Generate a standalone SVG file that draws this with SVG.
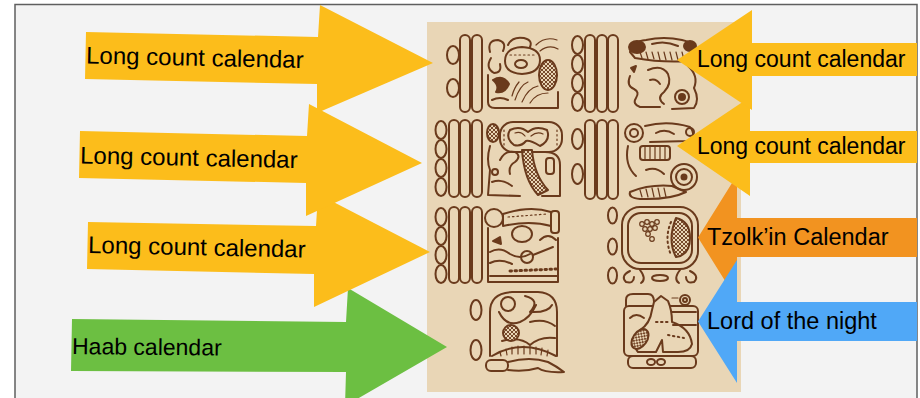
<svg xmlns="http://www.w3.org/2000/svg" width="920" height="398" viewBox="0 0 920 398">
<defs>
<style>
.gl{fill:none;stroke:#6a3a1c;stroke-width:2;stroke-linecap:round;stroke-linejoin:round}
.fb{fill:#6a3a1c}
.th{stroke-width:1.2}
.lbl{font-family:"Liberation Sans",Arial,sans-serif;fill:#000}
.yel{fill:#fcbd1b}
</style>
<pattern id="hatch" width="4" height="4" patternUnits="userSpaceOnUse"><rect width="4" height="4" fill="#e9d6b6"/><path d="M0 0 L4 4 M4 0 L0 4" stroke="#6a3a1c" stroke-width="0.9"/></pattern>
<rect id="bar" width="10" height="77" rx="5"/>
<rect id="barL" width="10" height="79" rx="5"/>
<rect id="barS" width="10" height="76" rx="5"/>
</defs>
<rect width="920" height="398" fill="#ffffff"/>
<rect x="15" y="4.5" width="902" height="400" fill="#f3f3f3" stroke="#5f5f5f" stroke-width="1.5"/>

<g id="glyph-panel">
<rect x="427" y="22" width="314" height="370" fill="#e9d6b6"/>
<g class="gl">
<!-- row 1 numerals -->
<g id="num-a1"><use href="#bar" x="460" y="35"/><use href="#bar" x="472" y="35"/><ellipse cx="453" cy="55" rx="6" ry="9"/><ellipse cx="453" cy="88" rx="6" ry="9"/></g>
<g id="num-c1"><use href="#bar" x="585" y="35"/><use href="#bar" x="597" y="35"/><use href="#bar" x="608" y="35"/><ellipse cx="577.5" cy="45" rx="5.5" ry="9"/><ellipse cx="577.5" cy="64" rx="5.5" ry="9"/><ellipse cx="577.5" cy="83" rx="5.5" ry="9"/><ellipse cx="577.5" cy="102" rx="5.5" ry="9"/></g>
<!-- row 2 numerals -->
<g id="num-a2"><use href="#bar" x="449" y="120"/><use href="#bar" x="460" y="120"/><use href="#bar" x="472" y="120"/><ellipse cx="441" cy="130" rx="5.5" ry="9"/><ellipse cx="441" cy="149" rx="5.5" ry="9"/><ellipse cx="441" cy="168" rx="5.5" ry="9"/><ellipse cx="441" cy="187" rx="5.5" ry="9"/></g>
<g id="num-c2"><use href="#barL" x="585" y="120"/><use href="#barL" x="597" y="120"/><use href="#barL" x="608" y="120"/><ellipse cx="577.5" cy="139" rx="5.5" ry="10"/><ellipse cx="577.5" cy="174" rx="5.5" ry="10"/></g>
<!-- row 3 numerals -->
<g id="num-a3"><use href="#barS" x="449" y="207"/><use href="#barS" x="460" y="207"/><use href="#barS" x="472" y="207"/><ellipse cx="441" cy="217" rx="5.5" ry="9"/><ellipse cx="441" cy="236" rx="5.5" ry="9"/><ellipse cx="441" cy="255" rx="5.5" ry="9"/><ellipse cx="441" cy="274" rx="5.5" ry="9"/></g>
<g id="num-c3"><ellipse cx="612.5" cy="215.5" rx="4.5" ry="8"/><ellipse cx="612.5" cy="246.5" rx="4.5" ry="8"/><ellipse cx="612.5" cy="275.5" rx="4.5" ry="8"/></g>
<!-- row 4 numeral -->
<g id="num-a4"><ellipse cx="476" cy="310" rx="5.5" ry="10"/><ellipse cx="476" cy="350" rx="5.5" ry="10"/></g>

<!-- glyph B1 -->
<g id="glyph-b1">
<path d="M490 52 Q487 40 498 40 Q507 42 503 51"/>
<path d="M508 45 Q512 36 524 38 Q533 40 530 47"/>
<path d="M536 45 Q545 36 557 40 M540 51 Q549 44 558 49" class="th"/>
<path d="M505 61 Q505 48 522 47 Q540 48 540 60 Q540 73 522 74 Q505 73 505 61 Z"/>
<path d="M510 55 L534 55" stroke-dasharray="1.5 3" class="th"/>
<ellipse cx="521" cy="64" rx="6" ry="4"/>
<path d="M491 58 Q485 68 494 73 Q502 73 500 64"/>
<path class="fb" d="M493 80 Q503 74 509 84 Q505 94 496 92 Q500 86 493 80 Z"/>
<path d="M488 75 L488 102 Q488 108 495 108 L558 108 L558 92"/>
<ellipse cx="548" cy="75" rx="9" ry="15" fill="url(#hatch)"/>
<path d="M515 100 Q520 85 528 82 M522 102 Q528 88 538 86 M530 103 Q536 93 548 93 M512 96 Q514 88 519 82" class="th"/>
<path d="M492 100 Q500 96 508 100"/>
</g>

<!-- glyph D1 -->
<g id="glyph-d1">
<path d="M630 52 Q632 41 646 40 Q664 36 682 40 Q696 43 696 53 L690 61 Q662 63 635 58 Z"/>
<path d="M640 52 L642 58 M646 52 L648 59 M652 52 L654 59 M658 52 L660 60 M664 52 L666 60 M670 52 L672 60 M676 52 L678 60 M682 52 L684 60" class="th"/>
<ellipse cx="637" cy="47" rx="8" ry="6" class="fb"/>
<ellipse cx="690" cy="46" rx="6" ry="5" class="fb"/>
<path d="M652 44 Q665 40 678 46"/>
<path class="fb" d="M631 68 L636 66 L634 72 Z"/>
<path d="M630 76 Q626 86 634 89 Q640 92 636 98 Q632 104 640 107 L660 107"/>
<path d="M648 70 Q662 64 668 74 Q672 84 664 92 Q656 98 664 104"/>
<circle cx="682" cy="97" r="7"/><circle cx="682" cy="97" r="3" class="fb"/>
<path d="M688 66 Q699 76 694 88 Q700 100 694 108 L672 109"/>
<path d="M650 80 Q656 78 660 84"/>
</g>

<!-- glyph B2 -->
<g id="glyph-b2">
<rect x="500" y="122" width="62" height="30" rx="13"/>
<path d="M510 130 Q520 125 528 132 Q536 125 547 130 Q551 140 540 146 Q530 140 526 141 Q521 147 514 145 Q505 138 510 130 Z"/>
<path d="M515 133 Q521 131 525 136 M531 136 Q537 131 543 134" class="th"/>
<path d="M504 130 L504 145 M557 130 L557 145" stroke-dasharray="1.5 3" class="th"/>
<ellipse cx="493" cy="133" rx="6" ry="9" fill="url(#hatch)"/>
<path d="M490 146 Q486 160 490 170 L488 195 L520 196"/>
<circle cx="495" cy="172" r="3"/>
<path d="M500 160 Q505 150 515 152 Q522 156 515 162 Q508 166 510 174"/>
<path d="M522 150 L532 150 Q534 175 548 190 L538 195 Q524 180 522 150 Z" fill="url(#hatch)"/>
<rect x="546" y="158" width="8" height="16" rx="3"/>
<path d="M545 152 Q560 152 560 165 L560 196 L542 196"/>
<path d="M492 182 Q502 178 512 186"/>
</g>

<!-- glyph D2 -->
<g id="glyph-d2">
<circle cx="634" cy="133" r="9"/><circle cx="634" cy="133" r="4"/>
<path d="M645 126 Q668 120 690 127 Q697 136 688 141 L650 142"/>
<circle cx="690" cy="132" r="4"/>
<path d="M656 133 Q665 128 674 134"/>
<rect x="640" y="146" width="30" height="14" rx="3"/>
<path d="M645 146 L645 160 M650 146 L650 160 M655 146 L655 160 M660 146 L660 160 M665 146 L665 160" class="th"/>
<path d="M628 146 Q624 165 636 176"/>
<circle cx="684" cy="177" r="13"/><circle cx="684" cy="177" r="8"/><circle cx="684" cy="177" r="2.5" class="fb"/>
<path d="M630 192 Q650 184 672 186 L686 192 Q670 200 640 199 Q628 198 630 192 Z"/>
<path d="M640 190 L642 197 M646 189 L648 197 M652 188 L654 197 M658 188 L660 197 M664 188 L666 197" class="th"/>
<path d="M646 170 Q656 166 664 174"/>
</g>

<!-- glyph B3 -->
<g id="glyph-b3">
<circle cx="494" cy="218" r="9"/>
<path d="M503 214 Q530 205 551 212 L551 226 Q530 220 503 226 Z"/>
<path d="M508 217 L547 214" stroke-dasharray="1.5 3" class="th"/>
<rect x="551" y="211" width="8" height="22" rx="3"/>
<path d="M488 228 L488 282 L558 282 L558 238"/>
<ellipse cx="522" cy="234" rx="10" ry="8"/>
<path class="fb" d="M493 241 L500 237 L501 244 Z"/>
<path d="M490 252 Q500 246 510 254 Q520 260 530 254"/>
<path d="M490 263 Q500 258 512 264"/>
<circle cx="527" cy="257" r="6"/><path d="M533 255 L553 247"/>
<path d="M540 240 Q548 232 556 240"/>
<path d="M510 271 L556 269" stroke-dasharray="1.5 3.5" stroke-width="3"/>
<path d="M490 276 L558 276"/>
</g>

<!-- glyph D3 (Tzolk'in cartouche) -->
<g id="glyph-d3">
<rect x="622" y="207" width="76" height="62" rx="18"/>
<rect x="628" y="213" width="64" height="50" rx="13"/>
<path d="M676 218 Q690 221 690 238 Q690 255 676 257 Q667 240 676 218 Z" fill="url(#hatch)"/>
<path d="M671 222 Q664 238 671 255" stroke-dasharray="1.5 3.5"/>
<g class="th"><circle cx="642" cy="224" r="2.3"/><circle cx="647" cy="222" r="2.3"/><circle cx="652" cy="224" r="2.3"/><circle cx="657" cy="222" r="2.3"/><circle cx="645" cy="229" r="2.3"/><circle cx="650" cy="229" r="2.3"/><circle cx="655" cy="228" r="2.3"/><circle cx="648" cy="234" r="2.3"/><circle cx="652" cy="239" r="2.3"/></g>
<path d="M630 271 Q620 276 626 282 Q634 284 634 277"/>
<path d="M690 271 Q700 276 694 282 Q686 284 686 277"/>
<path d="M640 270 Q647 279 641 283"/>
<path d="M680 270 Q673 279 679 283"/>
<ellipse cx="660" cy="278" rx="8" ry="3"/>
</g>

<!-- glyph B4 -->
<g id="glyph-b4">
<path d="M490 356 L490 312 Q490 293 512 292 L538 292 Q557 293 557 312 L557 356"/>
<circle cx="508" cy="304" r="7"/>
<path d="M499 312 Q506 327 520 322 Q530 318 536 305"/>
<path d="M525 296 Q541 300 530 312 Q548 313 552 305"/>
<path d="M530 322 Q545 318 555 326"/>
<path d="M502 341 Q520 336 530 345 Q540 336 555 338"/>
<circle cx="511" cy="333" r="8" fill="url(#hatch)"/>
<path d="M492 356 Q522 338 556 356"/>
<path d="M500 352 L501 356 M506 349 L507 355 M512 347 L512 354 M518 346 L518 354 M524 346 L524 354 M530 346 L530 354 M536 347 L536 354 M542 348 L541 355 M548 350 L547 356" class="th"/>
<rect x="486" y="360" width="22" height="11" rx="5"/>
<path d="M508 362 Q530 356 548 362 Q556 366 564 372 Q545 373 538 368 Q525 372 508 370"/>
</g>

<!-- glyph D4 -->
<g id="glyph-d4">
<path d="M626 306 L626 300 Q626 294 633 294 L648 294 Q654 294 654 302"/>
<rect x="624" y="306" width="74" height="50" rx="5"/>
<path d="M654 302 L661 296 L668 301 Q672 310 672 322 Q690 328 692 344 Q690 352 678 352 L663 352 L662 340 L656 352 L638 352 Q632 346 640 330 Q650 324 652 310 Z" fill="#e9d6b6"/>
<ellipse cx="640" cy="339" rx="7" ry="11" transform="rotate(35 640 339)" fill="url(#hatch)"/>
<circle cx="685" cy="300" r="5"/><circle cx="685" cy="300" r="2"/>
<path d="M672 298 L678 298" class="th"/>
<path d="M672 312 L696 312 M673 325 L696 325"/>
<path d="M656 322 L668 322 M668 335 L684 338" stroke-dasharray="1.5 3.5"/>
<path d="M630 318 Q636 312 644 318"/>
<rect x="628" y="356" width="68" height="12" rx="5"/>
<ellipse cx="651" cy="362" rx="4" ry="3"/><ellipse cx="661" cy="362" rx="4" ry="3"/>
</g>
</g>
</g>

<g id="connectors">
<!-- left arrows -->
<g id="arrow-haab">
<polygon points="72,319 346,322 348,288 447,347 345,406 346,372 71,371" fill="#6cbf42"/>
<text class="lbl" x="72" y="354" font-size="23" transform="rotate(0.6 72 354)">Haab calendar</text>
</g>
<g id="arrow-long-count-3">
<polygon class="yel" points="88,222 316,226 318,194 430,252 314,307 314,274 87,269"/>
<text class="lbl" x="88" y="253" font-size="24" transform="rotate(1.2 88 253)">Long count calendar</text>
</g>
<g id="arrow-long-count-2">
<polygon class="yel" points="80,131 307,136 309,104 422,163 306,216 306,183 79,178"/>
<text class="lbl" x="80" y="163.5" font-size="24" transform="rotate(1.2 80 163.5)">Long count calendar</text>
</g>
<g id="arrow-long-count-1">
<polygon class="yel" points="86,32 318,37 320,5 433,63 317,113 317,84 85,79"/>
<text class="lbl" x="86" y="63.5" font-size="24" transform="rotate(1.2 86 63.5)">Long count calendar</text>
</g>
<!-- right arrows -->
<g id="arrow-tzolkin">
<polygon points="917,218 737,218 737,175 698,237.5 737,300 737,257 917,257" fill="#f29320"/>
<text class="lbl" x="707" y="244.5" font-size="23.5">Tzolk’in Calendar</text>
</g>
<g id="arrow-lord-night">
<polygon points="917,302 737,302 737,260 698,321.5 737,383 737,341 917,341" fill="#50a8f7"/>
<text class="lbl" x="707" y="328.5" font-size="23.5">Lord of the night</text>
</g>
<g id="arrow-long-count-5">
<polygon class="yel" points="917,131 750,131 750,97 677,146 750,196 750,163 917,163"/>
<text class="lbl" x="697" y="154" font-size="23">Long count calendar</text>
</g>
<g id="arrow-long-count-4">
<polygon class="yel" points="917,43 752,43 752,10 677,60 752,110 752,76 917,76"/>
<text class="lbl" x="697" y="67" font-size="23">Long count calendar</text>
</g>
</g>
</svg>
